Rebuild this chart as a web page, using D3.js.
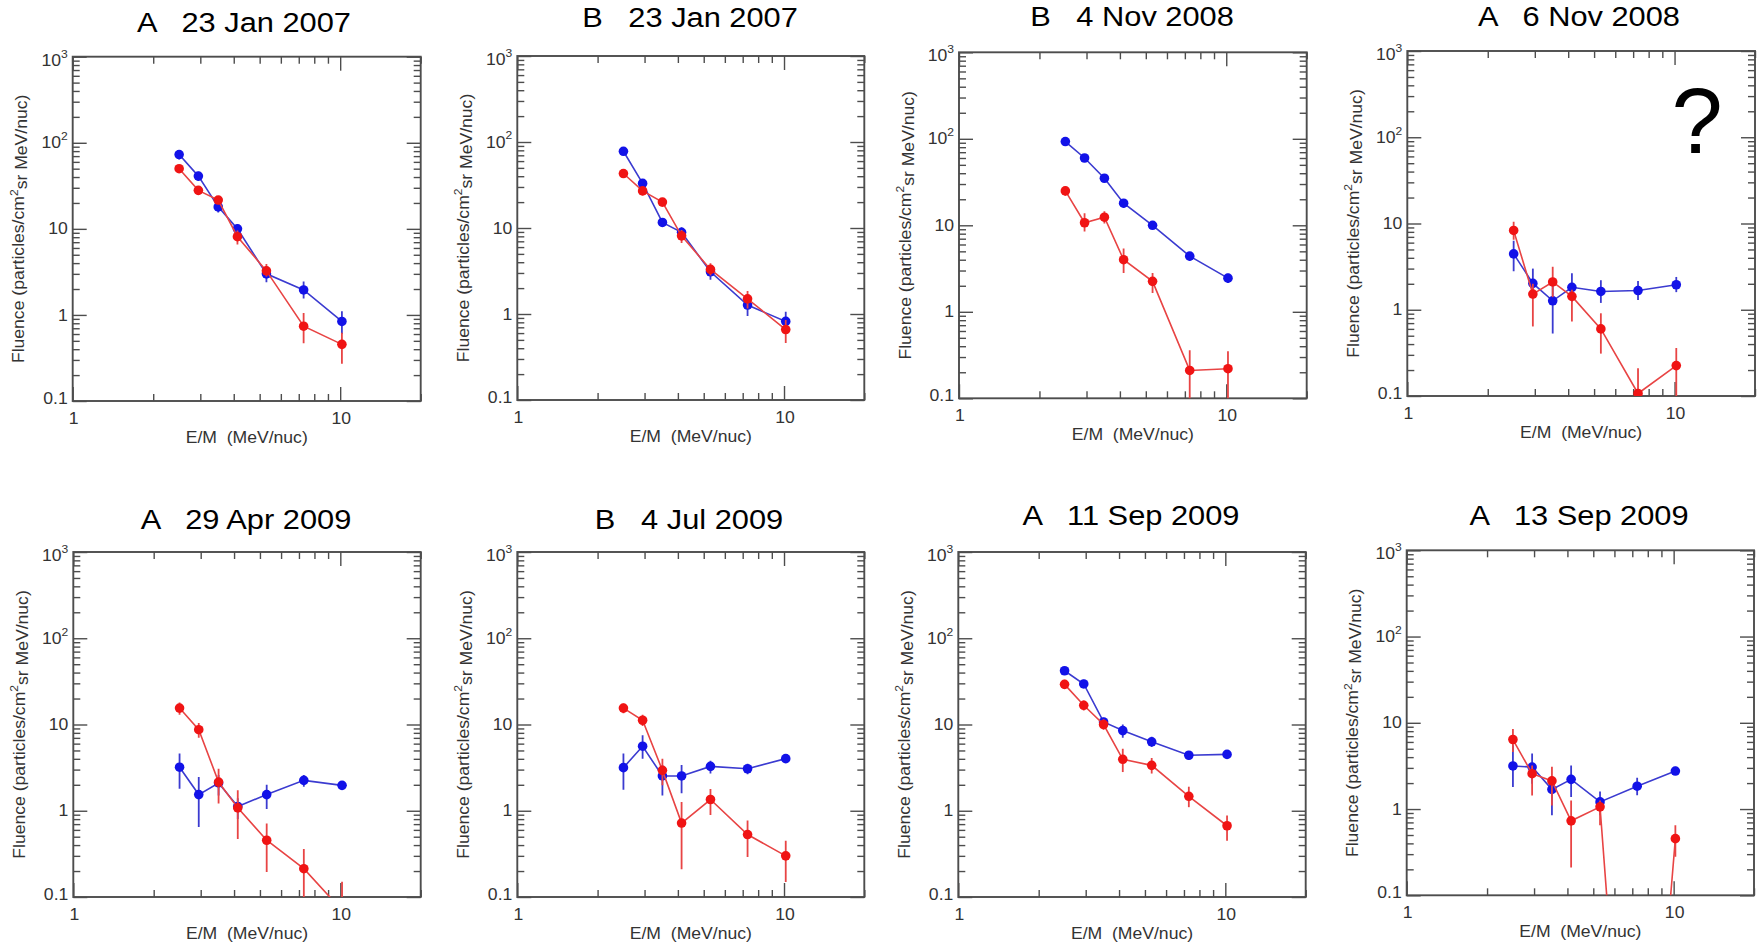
<!DOCTYPE html>
<html>
<head>
<meta charset="utf-8">
<script src="https://cdn.jsdelivr.net/npm/d3@7"></script>
<style>
  body { margin: 0; background: #fff; }
  svg { display: block; }
  text { font-family: "Liberation Sans", Arial, Helvetica, sans-serif; white-space: pre; }
</style>
</head>
<body>
<div id="chart"></div>
<script>
// energy bins (MeV/nuc), shared by every panel
const energies = [2.5, 2.95, 3.5, 4.13, 5.3, 7.3, 10.15];

const titles = [
  "A   23 Jan 2007", "B   23 Jan 2007", "B   4 Nov 2008", "A   6 Nov 2008",
  "A   29 Apr 2009", "B   4 Jul 2009", "A   11 Sep 2009", "A   13 Sep 2009"
];

// blue series: value, lower and upper end of error bar
const blueFluence = [
  [73, 41, 18, 10, 3.0, 1.95, 0.84],
  [78, 33, 11.6, 8.9, 3.1, 1.27, 0.82],
  [93, 60, 35, 18, 10, 4.4, 2.45],
  [4.45, 2.02, 1.27, 1.82, 1.63, 1.67, 1.95],
  [3.2, 1.54, 2.1, 1.12, 1.54, 2.25, 1.97],
  [3.16, 5.6, 2.53, 2.53, 3.27, 3.07, 4.02],
  [42, 29.5, 10.7, 8.5, 6.3, 4.4, 4.5],
  [3.16, 3.07, 1.69, 2.21, 1.21, 1.84, 2.76]
];
const blueLo = [
  [64, 36, 15.5, 8.8, 2.4, 1.55, 0.6],
  [70, 29, 10.3, 7.7, 2.5, 0.95, 0.62],
  [86, 55, 32, 16, 9.2, 3.9, 2.15],
  [2.8, 1.36, 0.53, 1.24, 1.2, 1.3, 1.6],
  [1.8, 0.65, 1.5, 0.8, 1.05, 1.9, 1.75],
  [1.75, 4.0, 1.5, 1.6, 2.7, 2.65, 3.6],
  [38, 26.5, 9.5, 7.0, 5.5, 3.9, 4.0],
  [1.8, 1.97, 0.85, 1.38, 0.85, 1.45, 2.5]
];
const blueHi = [
  [82, 46, 20.5, 11.3, 3.7, 2.45, 1.1],
  [87, 37, 13, 10.2, 3.7, 1.6, 1.06],
  [100, 65, 38, 20, 10.9, 4.9, 2.75],
  [6.3, 3.0, 1.95, 2.65, 2.2, 2.15, 2.4],
  [4.6, 2.46, 2.6, 1.4, 2.0, 2.6, 2.2],
  [4.6, 7.5, 3.4, 3.4, 3.8, 3.5, 4.4],
  [46, 33, 12, 10, 7.2, 4.9, 5.0],
  [5.5, 4.4, 2.25, 3.2, 1.6, 2.3, 3.1]
];

// red series
const redFluence = [
  [50, 28, 21.6, 8.1, 3.25, 0.74, 0.455],
  [43, 27, 20, 8.1, 3.3, 1.5, 0.66],
  [25, 10.7, 12.4, 4.0, 2.25, 0.21, 0.22],
  [8.3, 1.52, 2.1, 1.43, 0.6, 0.107, 0.225],
  [15.5, 8.7, 2.15, 1.08, 0.455, 0.213, 0.07],
  [15.5, 11.2, 2.94, 0.72, 1.35, 0.53, 0.30],
  [29.2, 16.7, 10, 3.95, 3.36, 1.47, 0.67],
  [6.4, 2.57, 2.12, 0.73, 1.06, 0.000002, 0.454]
];
const redLo = [
  [45, 25, 19.5, 6.6, 2.8, 0.47, 0.27],
  [39, 24, 18, 6.7, 2.8, 1.16, 0.46],
  [22, 8.5, 10.5, 2.8, 1.65, 0.01, 0.01],
  [6.5, 0.64, 1.4, 0.73, 0.31, 0.01, 0.01],
  [13, 7.0, 1.21, 0.47, 0.195, 0.01, 0.01],
  [13.5, 9.6, 1.97, 0.21, 0.89, 0.29, 0.149],
  [26, 14.5, 8.7, 2.81, 2.7, 1.1, 0.45],
  [4.6, 1.44, 1.1, 0.21, 0.65, 0.000001, 0.28]
];
const redHi = [
  [55, 31, 24, 9.6, 3.9, 1.05, 0.62],
  [48, 30, 22, 9.5, 3.9, 1.85, 0.85],
  [28, 13.8, 14.5, 5.4, 2.8, 0.36, 0.35],
  [10.5, 2.0, 3.15, 1.7, 0.91, 0.21, 0.36],
  [18, 10.4, 3.07, 1.73, 0.71, 0.36, 0.15],
  [17.5, 13, 4.0, 1.26, 1.79, 0.77, 0.45],
  [33, 19, 11.5, 5.25, 4.1, 1.9, 0.88],
  [8.5, 3.2, 3.1, 1.26, 1.26, 0.000003, 0.65]
];

const xDomain = [1, 20];
const yDomain = [0.1, 1000];
const xTickLabels = [[1, "1"], [10, "10"]];
const yTickLabels = [[0.1, "0.1", ""], [1, "1", ""], [10, "10", ""], [100, "10", "2"], [1000, "10", "3"]];

// layout: plot boxes [left, top, right, bottom] and title anchors
const boxes = [
  [72.7, 56.7, 420.7, 401], [517.3, 56, 864.3, 400], [959, 52.3, 1306.7, 398.3], [1407.3, 51, 1755, 396],
  [73.3, 552, 420.7, 897], [517.3, 552, 864.3, 897], [958.3, 552, 1305.7, 897], [1406.7, 550.3, 1754, 895.3]
];
const titlePos = [
  [244, 32], [690, 27], [1132, 26], [1579, 26],
  [246, 529], [689, 529], [1131, 525], [1579, 525]
];

const W = 1763, H = 943;
const sx = 1.1; // text in the figure is a bit wider than Arial
const frameColor = "#4d4d4d";

const svg = d3.select("#chart").append("svg")
  .attr("width", W)
  .attr("height", H);

const series = [
  { v: blueFluence, lo: blueLo, hi: blueHi, dot: "#1212e8", line: "#3b3bd0" },
  { v: redFluence, lo: redLo, hi: redHi, dot: "#f01414", line: "#e84444" }
];

boxes.forEach((b, i) => {
  const [x0, y0, x1, y1] = b;
  const x = d3.scaleLog().domain(xDomain).range([x0, x1]);
  const y = d3.scaleLog().domain(yDomain).range([y1, y0]);
  const g = svg.append("g");

  const isPow = v => Math.abs(Math.log10(v) - Math.round(Math.log10(v))) < 1e-9;
  const xMajor = x.ticks().filter(isPow);
  const xMinor = x.ticks().filter(v => !isPow(v));
  const yMajor = y.ticks().filter(isPow);
  const yMinor = y.ticks().filter(v => !isPow(v));

  // inward ticks on all four sides
  function ticks(axisFn, scale, vals, len, tr) {
    g.append("g")
      .attr("transform", tr)
      .call(axisFn(scale).tickValues(vals).tickSize(-len).tickFormat(""))
      .call(a => a.select(".domain").remove())
      .selectAll("line")
      .attr("stroke", frameColor)
      .attr("stroke-width", 1.4);
  }
  ticks(d3.axisBottom, x, xMinor, 7, `translate(0,${y1})`);
  ticks(d3.axisBottom, x, xMajor, 14, `translate(0,${y1})`);
  ticks(d3.axisTop, x, xMinor, 7, `translate(0,${y0})`);
  ticks(d3.axisTop, x, xMajor, 14, `translate(0,${y0})`);
  ticks(d3.axisLeft, y, yMinor, 7, `translate(${x0},0)`);
  ticks(d3.axisLeft, y, yMajor, 14, `translate(${x0},0)`);
  ticks(d3.axisRight, y, yMinor, 7, `translate(${x1},0)`);
  ticks(d3.axisRight, y, yMajor, 14, `translate(${x1},0)`);

  g.append("rect")
    .attr("x", x0).attr("y", y0)
    .attr("width", x1 - x0).attr("height", y1 - y0)
    .attr("fill", "none")
    .attr("stroke", frameColor)
    .attr("stroke-width", 1.9);

  // tick labels
  xTickLabels.forEach(([v, s]) => {
    g.append("text")
      .attr("transform", `translate(${x(v) + 1},${y1 + 17.5}) scale(${sx},1)`)
      .attr("text-anchor", "middle")
      .attr("dy", "0.35em")
      .attr("font-size", 16)
      .attr("fill", "#333")
      .text(s);
  });
  yTickLabels.forEach(([v, s, sup], k) => {
    let yy = y(v);
    if (k === 0) yy -= 3;
    if (k === yTickLabels.length - 1) yy += 3.5;
    const t = g.append("text")
      .attr("transform", `translate(${x0 - 5},${yy}) scale(${sx},1)`)
      .attr("text-anchor", "end")
      .attr("font-size", 16)
      .attr("fill", "#333");
    t.append("tspan").attr("dy", "0.35em").text(s);
    if (sup) t.append("tspan").attr("font-size", 11).attr("dy", "-0.75em").text(sup);
  });

  // axis titles
  g.append("text")
    .attr("transform", `translate(${(x0 + x1) / 2},${y1 + 36.5}) scale(${sx},1)`)
    .attr("text-anchor", "middle")
    .attr("dy", "0.35em")
    .attr("font-size", 16)
    .attr("fill", "#333")
    .text("E/M  (MeV/nuc)");

  const yl = g.append("text")
    .attr("transform", `translate(${x0 - 54},${(y0 + y1) / 2}) rotate(-90) scale(${sx},1)`)
    .attr("text-anchor", "middle")
    .attr("dy", "0.35em")
    .attr("font-size", 16)
    .attr("fill", "#333");
  yl.append("tspan").text("Fluence (particles/cm");
  yl.append("tspan").attr("font-size", 11).attr("dy", "-0.6em").text("2");
  yl.append("tspan").attr("dy", "0.6em").text("sr MeV/nuc)");

  // panel title
  g.append("text")
    .attr("transform", `translate(${titlePos[i][0]},${titlePos[i][1]}) scale(${sx},1)`)
    .attr("text-anchor", "middle")
    .attr("font-size", 28)
    .attr("fill", "#000")
    .text(titles[i]);

  // data
  const clipId = "clip" + i;
  svg.append("clipPath").attr("id", clipId)
    .append("rect")
    .attr("x", x0).attr("y", y0)
    .attr("width", x1 - x0).attr("height", y1 - y0);
  const pg = g.append("g").attr("clip-path", `url(#${clipId})`);

  const line = d3.line().x(d => x(d.e)).y(d => y(d.v));

  series.forEach(s => {
    const pts = energies.map((e, k) => ({ e, v: s.v[i][k], lo: s.lo[i][k], hi: s.hi[i][k] }));
    pg.append("path")
      .datum(pts)
      .attr("d", line)
      .attr("fill", "none")
      .attr("stroke", s.line)
      .attr("stroke-width", 1.6);
    pg.selectAll(null)
      .data(pts)
      .join("line")
      .attr("x1", d => x(d.e)).attr("x2", d => x(d.e))
      .attr("y1", d => y(d.lo)).attr("y2", d => y(d.hi))
      .attr("stroke", s.line)
      .attr("stroke-width", 1.8);
    pg.selectAll(null)
      .data(pts)
      .join("circle")
      .attr("cx", d => x(d.e))
      .attr("cy", d => y(d.v))
      .attr("r", 4.8)
      .attr("fill", s.dot);
  });
});

// the question mark in the 6 Nov 2008 panel
svg.append("text")
  .attr("x", 1697)
  .attr("y", 153)
  .attr("text-anchor", "middle")
  .attr("font-size", 92)
  .attr("fill", "#000")
  .text("?");
</script>
</body>
</html>
